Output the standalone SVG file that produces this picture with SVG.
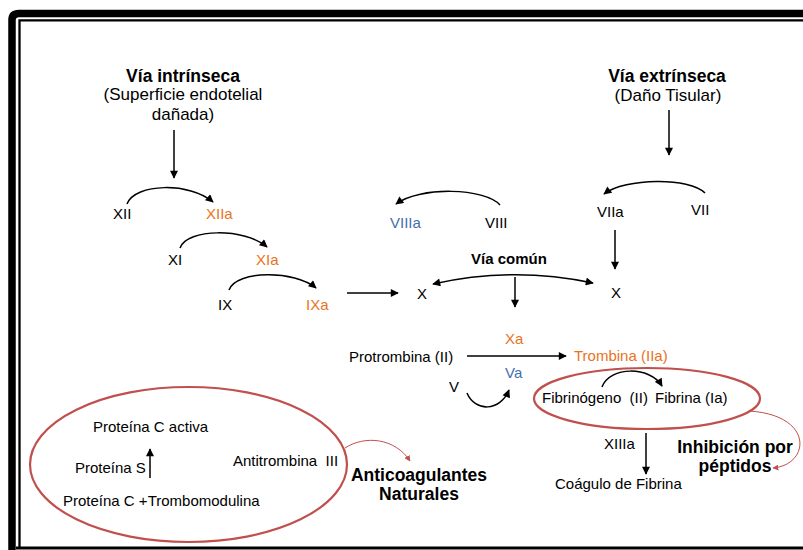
<svg xmlns="http://www.w3.org/2000/svg" width="803" height="550" viewBox="0 0 803 550">
<style>
text{font-family:"Liberation Sans",Arial,sans-serif;fill:#000}
.s{font-size:15px}
.h{font-size:17.5px;font-weight:bold}
.p{font-size:17px}
.o{fill:#E8731E}
.b{fill:#3F6FAE}
.c{fill:none;stroke:#000;stroke-width:1.5}
.r{fill:none;stroke:#C0504D;stroke-width:2.2}
.rt{fill:none;stroke:#C0504D;stroke-width:1}
</style>
<defs>
<marker id="a" viewBox="0 0 10 10" refX="9" refY="5" markerWidth="9" markerHeight="8" markerUnits="userSpaceOnUse" orient="auto-start-reverse"><path d="M0,0 L10,5 L0,10 z" fill="#000"/></marker>
<marker id="ar" viewBox="0 0 10 10" refX="9" refY="5" markerWidth="6" markerHeight="6" markerUnits="userSpaceOnUse" orient="auto"><path d="M0,0 L10,5 L0,10 z" fill="#C0504D"/></marker>
</defs>
<g id="frame" fill="none" stroke="#000">
<path d="M12,550 V20 Q12,13.5 19,13.5 H803" stroke-width="7.5"/>
<path d="M19.5,547 V20.3 H803" stroke-width="2.3"/>
<path d="M16,548 H803" stroke-width="3"/>
</g>
<g id="connectors">
<line class="c" x1="174" y1="130" x2="174" y2="178" marker-end="url(#a)"/>
<line class="c" x1="669" y1="110" x2="669" y2="155" marker-end="url(#a)"/>
<path class="c" d="M127,204 C135,183 190,182 213,202" marker-end="url(#a)"/>
<path class="c" d="M180,248 C187,228 245,228 267,247" marker-end="url(#a)"/>
<path class="c" d="M229,290 C236,270 295,270 316,288" marker-end="url(#a)"/>
<line class="c" x1="347" y1="293" x2="398" y2="293" marker-end="url(#a)"/>
<path class="c" d="M500,205 C485,188 420,186 396,204" marker-end="url(#a)"/>
<path class="c" d="M705,193 C690,177 625,178 604,194" marker-end="url(#a)"/>
<line class="c" x1="615" y1="230" x2="615" y2="269" marker-end="url(#a)"/>
<path class="c" d="M433,284 Q513,266 593,283" marker-start="url(#a)" marker-end="url(#a)"/>
<line class="c" x1="515" y1="277" x2="515" y2="307" marker-end="url(#a)"/>
<line class="c" x1="467" y1="356" x2="566" y2="356" marker-end="url(#a)"/>
<path class="c" d="M467,393 C475,412 500,412 509,390" marker-end="url(#a)"/>
<path class="c" d="M602,387 C610,366 650,366 662,386" marker-end="url(#a)"/>
<line class="c" x1="646" y1="433" x2="646" y2="474" marker-end="url(#a)"/>
<line class="c" x1="150" y1="478" x2="150" y2="449" marker-end="url(#a)"/>
<path class="rt" d="M749,411 C815,415 810,465 773,468" marker-end="url(#ar)"/>
<path class="rt" d="M345,448 C365,435 395,438 410,461" marker-end="url(#ar)"/>
</g>
<g id="intrinseca">
<text class="h" x="183" y="82" text-anchor="middle">Vía intrínseca</text>
<text class="p" x="183" y="100" text-anchor="middle">(Superficie endotelial</text>
<text class="p" x="183" y="120" text-anchor="middle">dañada)</text>
</g>
<g id="extrinseca">
<text class="h" x="667" y="82" text-anchor="middle">Vía extrínseca</text>
<text class="p" x="668" y="101" text-anchor="middle">(Daño Tisular)</text>
</g>
<g id="n-XII"><text class="s" x="113" y="219">XII</text></g>
<g id="n-XIIa"><text class="s o" x="206" y="219">XIIa</text></g>
<g id="n-XI"><text class="s" x="168" y="265">XI</text></g>
<g id="n-XIa"><text class="s o" x="256" y="265">XIa</text></g>
<g id="n-IX"><text class="s" x="218" y="310">IX</text></g>
<g id="n-IXa"><text class="s o" x="306" y="310">IXa</text></g>
<g id="n-VIIIa"><text class="s b" x="390" y="228">VIIIa</text></g>
<g id="n-VIII"><text class="s" x="485" y="228">VIII</text></g>
<g id="n-VIIa"><text class="s" x="597" y="217">VIIa</text></g>
<g id="n-VII"><text class="s" x="691" y="215">VII</text></g>
<g id="n-comun"><text class="s" x="509" y="264" text-anchor="middle" font-weight="bold">Vía común</text></g>
<g id="n-X1"><text class="s" x="417" y="299">X</text></g>
<g id="n-X2"><text class="s" x="611" y="298">X</text></g>
<g id="n-protrombina"><text class="s" x="349" y="362">Protrombina (II)</text></g>
<g id="n-Xa"><text class="s o" x="505" y="344">Xa</text></g>
<g id="n-trombina"><text class="s o" x="574" y="361">Trombina (IIa)</text></g>
<g id="n-Va"><text class="s b" x="505" y="378">Va</text></g>
<g id="n-V"><text class="s" x="449" y="392">V</text></g>
<g id="n-fibrina">
<ellipse class="r" cx="647" cy="398.5" rx="113" ry="30.5"/>
<text class="s" x="542" y="403" xml:space="preserve">Fibrinógeno  (II)</text>
<text class="s" x="655" y="403">Fibrina (Ia)</text>
</g>
<g id="n-XIIIa"><text class="s" x="604" y="449">XIIIa</text></g>
<g id="n-coagulo"><text class="s" x="555" y="489">Coágulo de Fibrina</text></g>
<g id="n-inhibicion">
<text class="h" x="735" y="453" text-anchor="middle">Inhibición por</text>
<text class="h" x="735" y="472" text-anchor="middle">péptidos</text>
</g>
<g id="n-anticoag-ellipse">
<ellipse class="r" cx="188.5" cy="464.5" rx="158.5" ry="77.5"/>
<text class="s" x="93" y="432">Proteína C activa</text>
<text class="s" x="75" y="473">Proteína S</text>
<text class="s" x="233" y="466" xml:space="preserve">Antitrombina  III</text>
<text class="s" x="63" y="506">Proteína C +Trombomodulina</text>
</g>
<g id="n-anticoag">
<text class="h" x="419" y="481" text-anchor="middle">Anticoagulantes</text>
<text class="h" x="419" y="500" text-anchor="middle">Naturales</text>
</g>
</svg>
